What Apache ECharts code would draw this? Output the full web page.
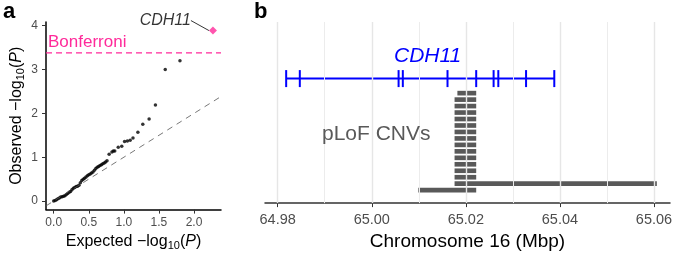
<!DOCTYPE html>
<html>
<head>
<meta charset="utf-8">
<script src="https://cdn.jsdelivr.net/npm/echarts@6/dist/echarts.min.js"></script>
<style>
  html,body{margin:0;padding:0;background:#fff;}
  #chart{width:676px;height:256px;}
</style>
</head>
<body>
<div id="chart"></div>
<script>
// panel a: QQ plot (expected vs observed -log10 P)
var qqExpected = [0.00,0.02,0.04,0.06,0.08,0.10,0.12,0.14,0.16,0.18,0.20,0.22,0.24,0.26,0.28,0.30,0.32,0.34,0.36,0.38,
  0.40,0.42,0.44,0.46,0.48,0.50,0.52,0.54,0.56,0.58,0.60,0.62,0.64,0.66,0.68,0.70,0.72,0.74,0.76,
  0.79,0.83,0.85,0.87,0.92,0.97,1.01,1.05,1.09,1.13,1.20,1.27,1.36,1.45,1.59,1.80];
var qqObserved = [0.00,0.01,0.03,0.05,0.07,0.09,0.10,0.11,0.12,0.15,0.17,0.20,0.22,0.26,0.29,0.31,0.33,0.34,0.36,0.42,
  0.47,0.50,0.52,0.55,0.58,0.60,0.62,0.64,0.66,0.70,0.74,0.77,0.79,0.81,0.83,0.85,0.87,0.89,0.92,
  1.07,1.12,1.14,1.14,1.23,1.25,1.36,1.37,1.39,1.44,1.57,1.75,1.87,2.19,3.00,3.20];
var topHit = {name: 'CDH11', x: 2.27, y: 3.89};
var bonferroni = 3.38;
var qqTicksX = [0, 0.5, 1, 1.5, 2];
var qqTicksY = [0, 1, 2, 3, 4];

// panel b: gene model and CNVs (Mbp)
var geneStart = 64.9818, geneEnd = 65.0388;
var exons = [64.9818, 64.9847, 65.0057, 65.0066, 65.0161, 65.0222, 65.0259, 65.0269, 65.0328, 65.0388];
var cnvStart = [65.0182,65.0176,65.0176,65.0176,65.0176,65.0176,65.0176,65.0176,65.0176,65.0176,65.0176,65.0176,65.0176,65.0176,65.0176,65.0099];
var cnvEnd   = [65.0222,65.0222,65.0222,65.0222,65.0222,65.0222,65.0222,65.0222,65.0222,65.0222,65.0222,65.0222,65.0222,65.0222,65.0606,65.0222];
var chrTicks = [64.98, 65.00, 65.02, 65.04, 65.06];
var chrMinor = [64.99, 65.01, 65.03, 65.05];

var pink = '#ff2a9a';
var geneRow = -1.25;

var qqData = [];
for (var i = 0; i < qqExpected.length; i++) qqData.push([qqExpected[i], qqObserved[i]]);
var cnvData = [];
for (var j = 0; j < cnvStart.length; j++) cnvData.push([cnvStart[j], cnvEnd[j], j + 1]);

var myChart = echarts.init(document.getElementById('chart'));
var font = 'Liberation Sans, Arial, Helvetica, sans-serif';

var titleRich = {
  n: {fontSize: 16, color: '#000', fontFamily: font},
  s: {fontSize: 11, color: '#000', fontFamily: font, padding: [8, 0, 0, 0]},
  i: {fontSize: 16, color: '#000', fontStyle: 'italic', fontFamily: font}
};

var option = {
  animation: false,
  textStyle: {fontFamily: font},
  grid: [
    {left: 46, top: 22, width: 175, height: 189},
    {left: 265, top: 22, width: 405, height: 187}
  ],
  xAxis: [
    {
      gridIndex: 0, type: 'value', min: -0.11, max: 2.385,
      name: '{n|Expected −log}{s|10}{n|(}{i|P}{n|)}',
      nameLocation: 'middle', nameGap: 22,
      nameTextStyle: {rich: titleRich},
      axisLine: {onZero: false, lineStyle: {color: '#000', width: 1.5}},
      axisTick: {customValues: qqTicksX, length: 4, lineStyle: {color: '#333'}},
      axisLabel: {customValues: qqTicksX, color: '#4d4d4d', fontSize: 12, margin: 7,
        formatter: function (v) { return v.toFixed(1); }},
      splitLine: {show: false}
    },
    {
      gridIndex: 1, type: 'value', min: 64.9773, max: 65.0634,
      name: 'Chromosome 16 (Mbp)', nameLocation: 'middle', nameGap: 26,
      nameTextStyle: {fontSize: 19, color: '#000'},
      axisLine: {onZero: false, lineStyle: {color: '#333', width: 1.5}},
      axisTick: {customValues: chrTicks, length: 4, lineStyle: {color: '#333'}},
      axisLabel: {customValues: chrTicks, color: '#4d4d4d', fontSize: 14.5, margin: 9,
        formatter: function (v) { return v.toFixed(2); }},
      splitLine: {show: false}
    }
  ],
  yAxis: [
    {
      gridIndex: 0, type: 'value', min: -0.195, max: 4.085,
      name: '{n|Observed −log}{s|10}{n|(}{i|P}{n|)}',
      nameLocation: 'middle', nameGap: 20, nameRotate: 90,
      nameTextStyle: {rich: titleRich},
      axisLine: {show: true, onZero: false, lineStyle: {color: '#000', width: 1.5}},
      axisTick: {show: true, customValues: qqTicksY, length: 4, lineStyle: {color: '#333'}},
      axisLabel: {customValues: qqTicksY, color: '#4d4d4d', fontSize: 12, margin: 8},
      splitLine: {show: false}
    },
    {
      gridIndex: 1, type: 'value', inverse: true, min: -10, max: 18, show: false
    }
  ],
  series: [
    {
      type: 'scatter', xAxisIndex: 0, yAxisIndex: 0, data: qqData,
      symbolSize: 3.5, itemStyle: {color: '#000'}, z: 3,
      markLine: {
        silent: true, symbol: 'none', label: {show: false},
        lineStyle: {color: '#555', type: [6, 5], width: 0.8},
        data: [[{coord: [-0.11, -0.11]}, {coord: [2.385, 2.385]}]]
      }
    },
    {
      // Bonferroni threshold
      type: 'line', xAxisIndex: 0, yAxisIndex: 0, z: 2,
      data: [[-0.11, bonferroni], [2.385, bonferroni]],
      showSymbol: false,
      lineStyle: {color: pink, type: [6, 4], width: 1.3}
    },
    {
      type: 'scatter', xAxisIndex: 0, yAxisIndex: 0, data: [[topHit.x, topHit.y]],
      symbol: 'diamond', symbolSize: 8, itemStyle: {color: pink}, z: 4,
      label: {show: true, formatter: topHit.name, position: 'left', fontStyle: 'italic',
        fontSize: 16, color: '#000', distance: 5},
      labelLayout: {dx: -13, dy: -10},
      labelLine: {show: true, lineStyle: {color: '#000', width: 0.8}}
    },
    {
      // vertical grid lines of panel b
      type: 'line', xAxisIndex: 1, yAxisIndex: 1, data: [], z: 1,
      markLine: {
        silent: true, symbol: 'none', label: {show: false},
        data: chrTicks.map(function (v) { return {xAxis: v, lineStyle: {color: '#e6e6e6', width: 1.4, type: 'solid'}}; })
          .concat(chrMinor.map(function (v) { return {xAxis: v, lineStyle: {color: '#ececec', width: 1, type: 'solid'}}; }))
      }
    },
    {
      type: 'line', xAxisIndex: 1, yAxisIndex: 1, z: 3,
      data: [[geneStart, geneRow], [geneEnd, geneRow]],
      showSymbol: false, lineStyle: {color: '#0000ff', width: 2}
    },
    {
      type: 'custom', xAxisIndex: 1, yAxisIndex: 1, z: 3,
      data: exons.map(function (e) { return [e, geneRow]; }),
      renderItem: function (params, api) {
        var p = api.coord([api.value(0), api.value(1)]);
        return {type: 'line', shape: {x1: p[0], y1: p[1] - 8.5, x2: p[0], y2: p[1] + 8.5},
          style: {stroke: '#0000ff', lineWidth: 2}};
      }
    },
    {
      type: 'custom', xAxisIndex: 1, yAxisIndex: 1, z: 3,
      data: cnvData,
      encode: {x: [0, 1], y: 2},
      renderItem: function (params, api) {
        var a = api.coord([api.value(0), api.value(2)]);
        var b = api.coord([api.value(1), api.value(2)]);
        var h = api.size([0, 1])[1] * 0.72;
        return {type: 'rect', shape: {x: a[0], y: a[1] - h / 2, width: b[0] - a[0], height: h},
          style: {fill: '#595959'}};
      }
    }
  ],
  graphic: [
    {type: 'text', z: 10, left: 3, top: 1, style: {text: 'a', font: 'bold 22px ' + font, fill: '#000'}},
    {type: 'text', z: 10, left: 254, top: 1, style: {text: 'b', font: 'bold 22px ' + font, fill: '#000'}},
    {type: 'text', z: 10, left: 48, top: 34, style: {text: 'Bonferroni', font: '17px ' + font, fill: pink}},
    {type: 'text', z: 10, left: 394, top: 46, style: {text: 'CDH11', font: 'italic 21px ' + font, fill: '#0000ff'}},
    {type: 'text', z: 10, left: 322, top: 124, style: {text: 'pLoF CNVs', font: '21px ' + font, fill: '#595959'}}
  ]
};

myChart.setOption(option);
</script>
</body>
</html>
